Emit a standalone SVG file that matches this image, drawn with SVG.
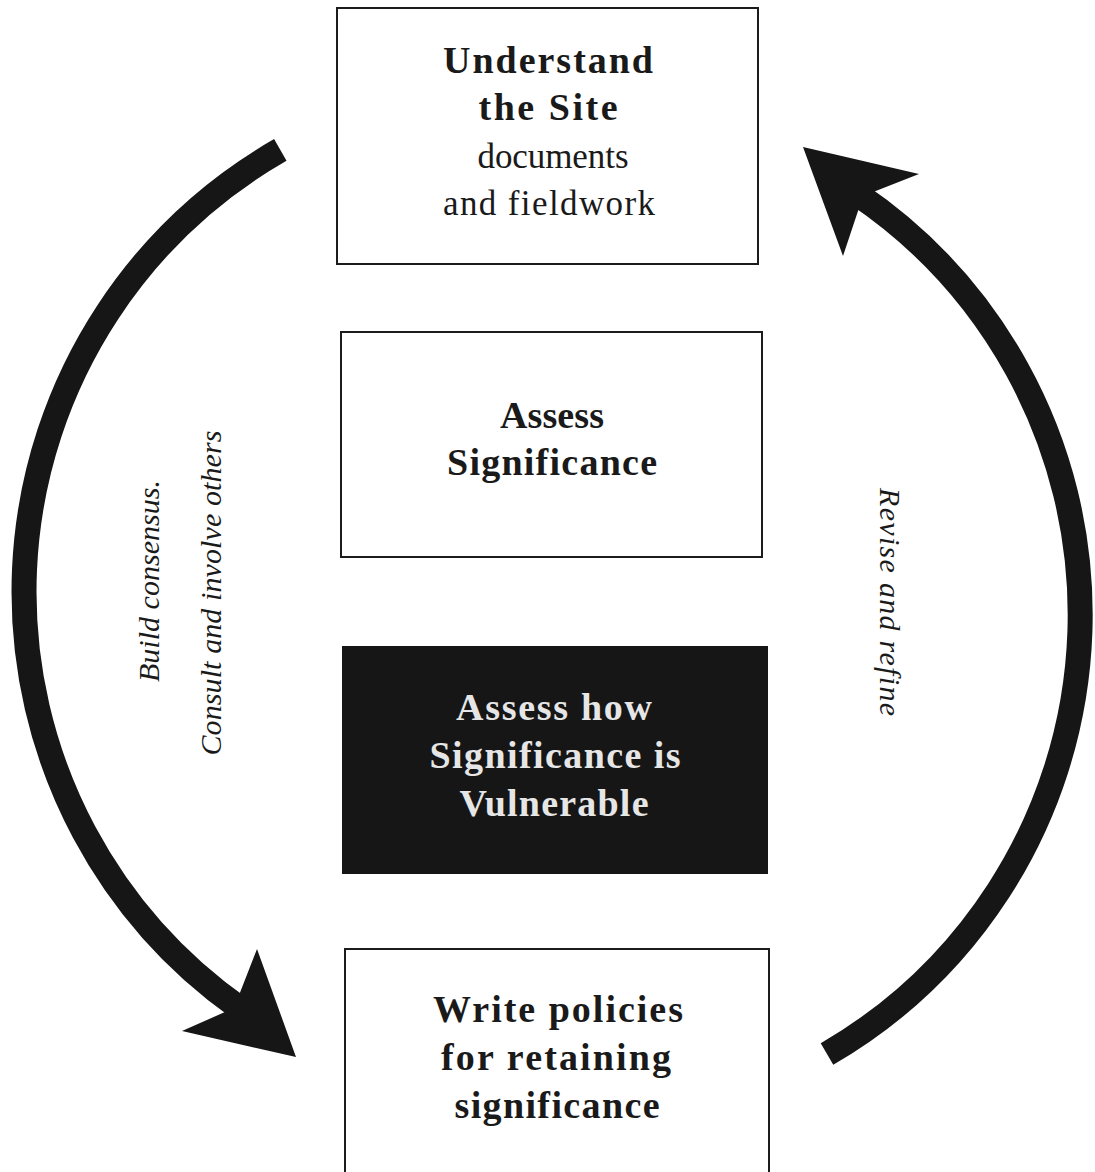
<svg xmlns="http://www.w3.org/2000/svg" width="1095" height="1172" viewBox="0 0 1095 1172">
<style>
.box{fill:#fff;stroke:#1c1c1c;stroke-width:2}
.dark{fill:#161616;stroke:#161616;stroke-width:2}
.b{font-family:"Liberation Serif","DejaVu Serif",serif;font-weight:bold;font-size:38px;fill:#1a1a1a;text-anchor:middle}
.r{font-family:"Liberation Serif","DejaVu Serif",serif;font-size:35px;fill:#1a1a1a;text-anchor:middle}
.w{fill:#e6e6e6}
.i{font-family:"Liberation Serif","DejaVu Serif",serif;font-style:italic;font-size:30px;fill:#1a1a1a;text-anchor:middle}
.shaft{fill:none;stroke:#161616;stroke-width:25}
.head{fill:#161616}
</style>
<rect width="1095" height="1172" fill="#fff"/>
<g id="connectors">
  <path class="shaft" d="M 280.3 149.9 A 509.5 509.5 0 0 0 241.3 1009.4"/>
  <path class="head" d="M 296 1057 L 257 949 L 234 1008 L 182 1031 Z"/>
  <path class="shaft" d="M 827 1054 A 508 508 0 0 0 856.3 193.4"/>
  <path class="head" d="M 803 147 L 919 174 L 863 196 L 843 256 Z"/>
  <text class="i" transform="translate(159,581) rotate(-90)" textLength="202" lengthAdjust="spacing">Build consensus.</text>
  <text class="i" transform="translate(221,593) rotate(-90)" textLength="325" lengthAdjust="spacing">Consult and involve others</text>
  <text class="i" transform="translate(880,602) rotate(90)" textLength="228" lengthAdjust="spacing">Revise and refine</text>
</g>
<g id="node-understand">
  <rect class="box" x="337" y="8" width="421" height="256"/>
  <text class="b" x="548" y="73" textLength="210" lengthAdjust="spacing">Understand</text>
  <text class="b" x="548" y="120" textLength="139" lengthAdjust="spacing">the Site</text>
  <text class="r" x="553" y="168" textLength="151" lengthAdjust="spacing">documents</text>
  <text class="r" x="549" y="215" textLength="212" lengthAdjust="spacing">and fieldwork</text>
</g>
<g id="node-assess">
  <rect class="box" x="341" y="332" width="421" height="225"/>
  <text class="b" x="552" y="428" textLength="104" lengthAdjust="spacing">Assess</text>
  <text class="b" x="552" y="475" textLength="210" lengthAdjust="spacing">Significance</text>
</g>
<g id="node-vulnerable">
  <rect class="dark" x="343" y="647" width="424" height="226"/>
  <text class="b w" x="554" y="720" textLength="196" lengthAdjust="spacing">Assess how</text>
  <text class="b w" x="555" y="768" textLength="251" lengthAdjust="spacing">Significance is</text>
  <text class="b w" x="554" y="816" textLength="189" lengthAdjust="spacing">Vulnerable</text>
</g>
<g id="node-policies">
  <path class="box" d="M 345 1172 L 345 949 L 769 949 L 769 1172"/>
  <text class="b" x="558" y="1022" textLength="250" lengthAdjust="spacing">Write policies</text>
  <text class="b" x="556" y="1070" textLength="230" lengthAdjust="spacing">for retaining</text>
  <text class="b" x="557" y="1118" textLength="205" lengthAdjust="spacing">significance</text>
</g>
</svg>
